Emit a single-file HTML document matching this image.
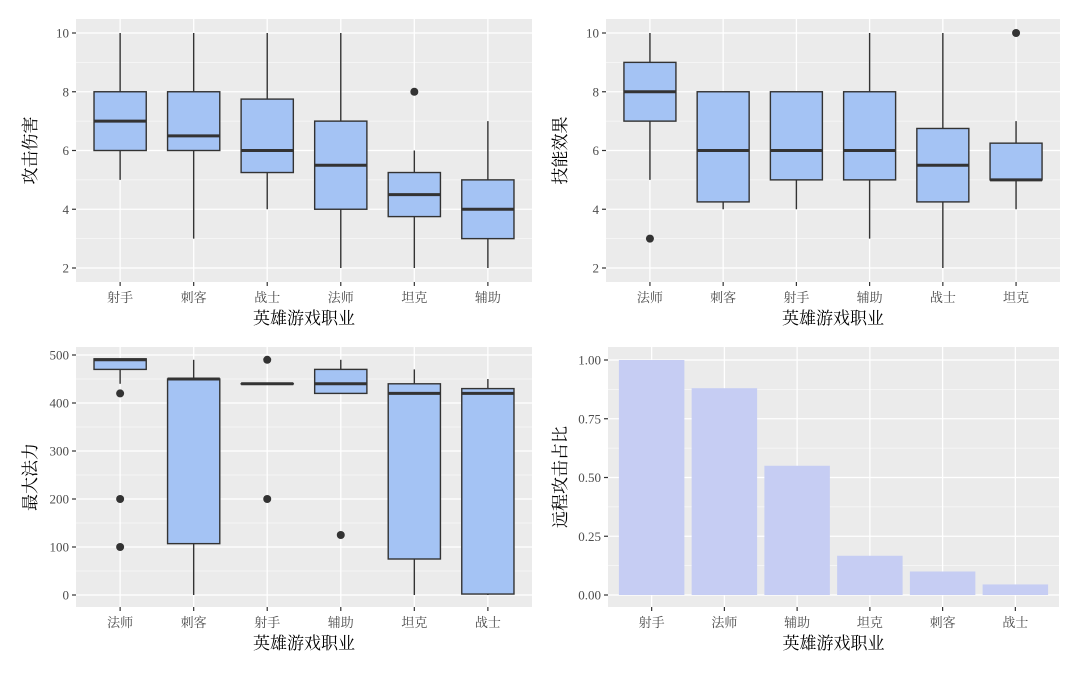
<!DOCTYPE html>
<html><head><meta charset="utf-8">
<style>
html,body{margin:0;padding:0;background:#fff;}
svg text{font-family:"Liberation Serif","Noto Serif CJK SC",serif;}
</style></head>
<body>
<svg id="c" width="1080" height="675" xmlns="http://www.w3.org/2000/svg"></svg>
<script>
// ---- data ----
const catsA = ["射手","刺客","战士","法师","坦克","辅助"];
const lowA = [5,3,4,2,2,2];
const q1A = [6,6,5.25,4,3.75,3];
const medA = [7,6.5,6,5.5,4.5,4];
const q3A = [8,8,7.75,7,5.25,5];
const highA = [10,10,10,10,6,7];
const outA = [[],[],[],[],[8],[]];
const ticksA = [2,4,6,8,10];

const catsB = ["法师","刺客","射手","辅助","战士","坦克"];
const lowB = [5,4,4,3,2,4];
const q1B = [7,4.25,5,5,4.25,5];
const medB = [8,6,6,6,5.5,5];
const q3B = [9,8,8,8,6.75,6.25];
const highB = [10,8,8,10,10,7];
const outB = [[3],[],[],[],[],[10]];
const ticksB = [2,4,6,8,10];

const catsC = ["法师","刺客","射手","辅助","坦克","战士"];
const lowC = [440,0,440,420,0,0];
const q1C = [470,107,440,420,75,2];
const medC = [490,450,440,440,420,420];
const q3C = [492,450,440,470,440,430];
const highC = [492,490,440,490,470,450];
const outC = [[420,200,100],[],[490,200],[125],[],[]];
const ticksC = [0,100,200,300,400,500];

const catsD = ["射手","法师","辅助","坦克","刺客","战士"];
const valsD = [1.0,0.88,0.55,0.167,0.1,0.045];
const ticksD = [0,0.25,0.5,0.75,1.0];
const tickLabD = ["0.00","0.25","0.50","0.75","1.00"];

const svg = document.getElementById('c');
const NS = "http://www.w3.org/2000/svg";
function mk(tag, attrs, parent){
  const e = document.createElementNS(NS, tag);
  for (const k in attrs) e.setAttribute(k, attrs[k]);
  (parent||svg).appendChild(e);
  return e;
}

function panel(p){
  const g = mk('g', {});
  
  
  const bg = mk('rect', {x:p.x0, y:p.top, width:p.x1-p.x0, height:p.bot-p.top, fill:'#ebebeb'}, g);
  
  
  const n = p.cats.length;
  const step = (p.x1-p.x0)/(n-1+1.2);
  const xs = i => p.x0 + 0.6*step + i*step;
  const ys = v => p.yA + (v - p.vA)*(p.yB - p.yA)/(p.vB - p.vA);
  // minor grid
  for (let i=0;i<p.ticks.length-1;i++){
    const vm = (p.ticks[i]+p.ticks[i+1])/2;
    mk('line',{x1:p.x0,x2:p.x1,y1:ys(vm),y2:ys(vm),stroke:'#fff','stroke-width':0.6},g);
  }
  p.ticks.forEach((t,i)=>{
    const y = ys(t);
    const gl = mk('line',{x1:p.x0,x2:p.x1,y1:y,y2:y,stroke:'#fff','stroke-width':1.3},g);
    
    
    mk('line',{x1:p.x0-4,x2:p.x0,y1:y,y2:y,stroke:'#333','stroke-width':1.2},g);
    const tl = mk('text',{x:p.x0-7,y:y+4.5,'text-anchor':'end','font-size':13,fill:'#4d4d4d'},g);
    tl.textContent = p.tickLab ? p.tickLab[i] : String(t);
    
    
  });
  p.cats.forEach((c,i)=>{
    const x = xs(i);
    mk('line',{x1:x,x2:x,y1:p.top,y2:p.bot,stroke:'#fff','stroke-width':1.3},g);
    mk('line',{x1:x,x2:x,y1:p.bot,y2:p.bot+4,stroke:'#333','stroke-width':1.2},g);
    const tl = mk('text',{x:x,y:p.bot+20,'text-anchor':'middle','font-size':13,fill:'#4d4d4d'},g);
    tl.textContent = c;
    
    
  });
  const bw = step*0.71;
  if (p.box){
    p.cats.forEach((c,i)=>{
      const x = xs(i);
      const bg2 = mk('g',{},g);
      
      
      mk('line',{x1:x,x2:x,y1:ys(p.high[i]),y2:ys(p.q3[i]),stroke:'#333','stroke-width':1.4},bg2);
      mk('line',{x1:x,x2:x,y1:ys(p.q1[i]),y2:ys(p.low[i]),stroke:'#333','stroke-width':1.4},bg2);
      mk('rect',{x:x-bw/2,y:ys(p.q3[i]),width:bw,height:Math.max(0.01,ys(p.q1[i])-ys(p.q3[i])),fill:'#a4c3f4',stroke:'#333','stroke-width':1.4},bg2);
      mk('line',{x1:x-bw/2,x2:x+bw/2,y1:ys(p.med[i]),y2:ys(p.med[i]),stroke:'#333','stroke-width':3},bg2);
      p.out[i].forEach(o=>{
        const pt = mk('circle',{cx:x,cy:ys(o),r:4,fill:'#333'},bg2);
        
        
      });
    });
  } else {
    const bw2 = step*0.9;
    p.cats.forEach((c,i)=>{
      const x = xs(i);
      const b = mk('rect',{x:x-bw2/2,y:ys(p.vals[i]),width:bw2,height:ys(0)-ys(p.vals[i]),fill:'#c6cdf3'},g);
      
      
    });
  }
  const xt = mk('text',{x:(p.x0+p.x1)/2,y:p.bot+42,'text-anchor':'middle','font-size':17,fill:'#000'},g);
  xt.textContent = '英雄游戏职业';
  
  
  const cy = (p.top+p.bot)/2;
  const yt = mk('text',{x:p.ytx,y:cy,'text-anchor':'middle','font-size':17,fill:'#000',transform:`rotate(-90 ${p.ytx} ${cy})`},g);
  yt.textContent = p.ytitle;
  
  
}

panel({name:'attack-damage-panel',x0:76,x1:532,top:19,bot:282,vA:2,yA:268,vB:10,yB:33,ticks:ticksA,cats:catsA,box:true,low:lowA,q1:q1A,med:medA,q3:q3A,high:highA,out:outA,ytitle:'攻击伤害',ytx:36});
panel({name:'skill-effect-panel',x0:606,x1:1060,top:19,bot:282,vA:2,yA:268,vB:10,yB:33,ticks:ticksB,cats:catsB,box:true,low:lowB,q1:q1B,med:medB,q3:q3B,high:highB,out:outB,ytitle:'技能效果',ytx:566});
panel({name:'max-mana-panel',x0:76,x1:532,top:347,bot:607,vA:0,yA:595,vB:500,yB:355,ticks:ticksC,cats:catsC,box:true,low:lowC,q1:q1C,med:medC,q3:q3C,high:highC,out:outC,ytitle:'最大法力',ytx:36});
panel({name:'ranged-ratio-panel',x0:608,x1:1059,top:347,bot:607,vA:0,yA:595,vB:1,yB:360,ticks:ticksD,tickLab:tickLabD,cats:catsD,box:false,vals:valsD,ytitle:'远程攻击占比',ytx:566});
</script>
</body></html>
